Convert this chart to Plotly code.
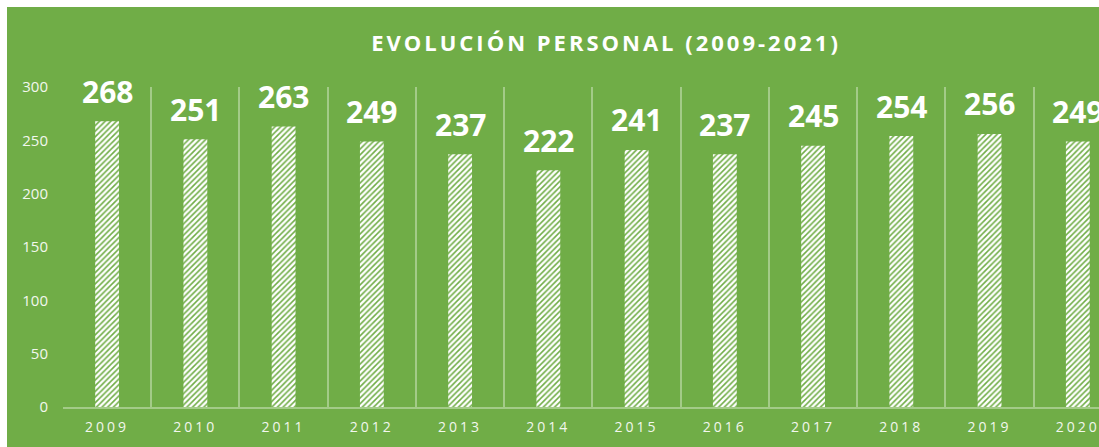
import plotly.graph_objects as go

years = ["2009", "2010", "2011", "2012", "2013", "2014", "2015", "2016", "2017", "2018", "2019", "2020"]
personal = [268, 251, 263, 249, 237, 222, 241, 237, 245, 254, 256, 249]
y_ticks = [0, 50, 100, 150, 200, 250, 300]
title_text = "EVOLUCIÓN PERSONAL (2009-2021)"

year_labels = ['<span style="letter-spacing:3px">%s</span>' % y for y in years]

GREEN = "#70AD47"
GRID = "#A3CB88"
W, H = 1099, 447
ML, MR, MT, MB = 63, 0, 87, 40
PW, PH = W - ML - MR, H - MT - MB

fig = go.Figure()
fig.add_trace(go.Bar(
    x=years, y=personal, width=0.27,
    marker=dict(color=GREEN, line=dict(width=0),
                pattern=dict(shape="/", fgcolor="white", bgcolor=GREEN, fgopacity=1,
                             size=4, solidity=0.62, fillmode="replace")),
    hoverinfo="skip",
))

for i, v in enumerate(personal):
    fig.add_annotation(x=i, y=v, xref="x", yref="y", yshift=30, yanchor="middle",
                       xanchor="center", text=str(v), showarrow=False,
                       font=dict(family="Open Sans", size=30, color="white", weight="bold"))

fig.add_shape(type="rect", xref="paper", yref="paper",
              x0=(7 - ML) / PW, x1=1.1, y0=-0.3, y1=(H - MB - 7) / PH,
              fillcolor=GREEN, line=dict(width=0), layer="below")

fig.update_layout(
    width=W, height=H,
    margin=dict(l=ML, r=MR, t=MT, b=MB, pad=0),
    paper_bgcolor="white", plot_bgcolor="rgba(0,0,0,0)",
    showlegend=False,
    title=dict(text='<span style="letter-spacing:3px">%s</span>' % title_text,
               x=606 / W, xanchor="center",
               xref="container", y=1 - 43 / H, yanchor="middle",
               font=dict(family="Open Sans", size=22, color="white", weight="bold")),
    xaxis=dict(type="category", range=[-0.5, 11.24], tickson="boundaries",
               tickvals=years, ticktext=year_labels,
               showgrid=True, gridcolor=GRID, gridwidth=1.5,
               showline=True, linecolor=GRID, linewidth=1.5,
               ticks="", ticklen=0, ticklabelstandoff=6,
               tickfont=dict(family="Open Sans", size=14, color="#F2F7EE")),
    yaxis=dict(range=[0, 300], tickvals=y_ticks, showgrid=False, zeroline=False,
               showline=False, ticks="", ticklabelstandoff=14,
               tickfont=dict(family="Open Sans", size=15, color="#F2F7EE")),
)

fig.write_html("out.html", config={"displayModeBar": False},
               post_script="document.body.style.margin='0px';document.body.style.overflow='hidden';")
